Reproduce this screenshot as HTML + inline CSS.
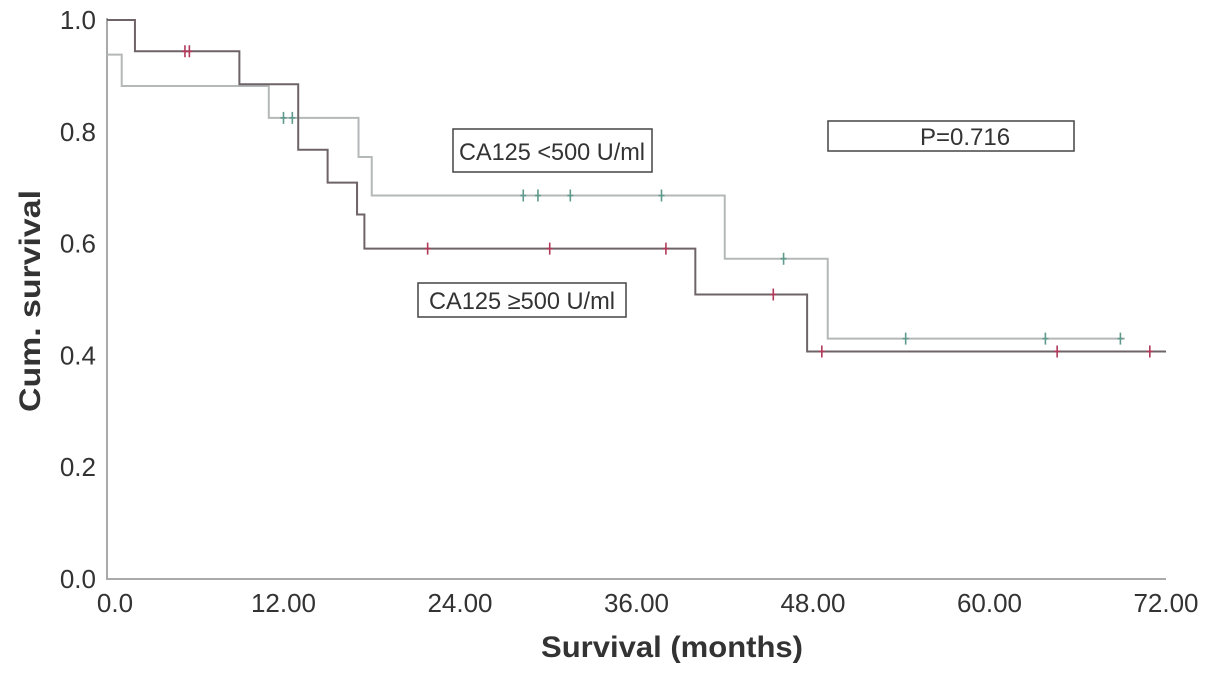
<!DOCTYPE html>
<html><head><meta charset="utf-8"><style>
html,body{margin:0;padding:0;background:#fff;}
svg{display:block;font-family:"Liberation Sans",sans-serif;}
</style></head><body>
<svg id="chart" width="1205" height="674" viewBox="0 0 1205 674">
<g id="axes"></g>
<g id="series"></g>
<g>
<rect x="453" y="129" width="199" height="43" fill="#fff" stroke="#444" stroke-width="1.5"/>
<text x="552" y="160" text-anchor="middle" font-size="24" fill="#333" textLength="186" lengthAdjust="spacingAndGlyphs">CA125 &lt;500 U/ml</text></g>
<g>
<rect x="418" y="283" width="208" height="34" fill="#fff" stroke="#444" stroke-width="1.5"/>
<text x="522" y="309" text-anchor="middle" font-size="24" fill="#333" textLength="186" lengthAdjust="spacingAndGlyphs">CA125 ≥500 U/ml</text></g>
<g>
<rect x="828" y="121" width="246" height="30" fill="#fff" stroke="#444" stroke-width="1.5"/>
<text x="965" y="145" text-anchor="middle" font-size="24" fill="#333">P=0.716</text></g>
<text x="672" y="657" text-anchor="middle" font-size="30" font-weight="bold" fill="#333" textLength="262" lengthAdjust="spacingAndGlyphs">Survival (months)</text>
<text transform="translate(40,301) rotate(-90)" text-anchor="middle" font-size="30" font-weight="bold" fill="#333" textLength="222" lengthAdjust="spacingAndGlyphs">Cum. survival</text>
</svg>
<script>
const xTicks=[0,12,24,36,48,60,72];
const xTickLabels=["0.0","12.00","24.00","36.00","48.00","60.00","72.00"];
const yTicks=[0,0.2,0.4,0.6,0.8,1.0];
const yTickLabels=["0.0","0.2","0.4","0.6","0.8","1.0"];
// CA125 <500 group
const lowTimes=[0,1.0,11.0,17.1,18.0,42.0,49.0];
const lowSurv=[0.938,0.882,0.825,0.755,0.686,0.573,0.430];
const lowEnd=69.2;
const lowCensor=[12.0,12.6,28.3,29.3,31.5,37.7,46.0,54.3,63.8,68.9];
// CA125 >=500 group
const highTimes=[0,1.9,9.0,13.0,15.0,17.0,17.5,40.0,47.6];
const highSurv=[1.0,0.944,0.885,0.768,0.709,0.652,0.591,0.509,0.407];
const highEnd=72;
const highCensor=[5.3,5.6,21.8,30.1,38.0,45.3,48.6,64.6,70.9];

const NS="http://www.w3.org/2000/svg";
const X=t=>107+t*(1166-107)/72;
const Y=v=>579-v*(579-20);
function mk(tag,attrs,parent){const e=document.createElementNS(NS,tag);for(const k in attrs)e.setAttribute(k,attrs[k]);parent.appendChild(e);return e;}
const axes=document.getElementById('axes');
const series=document.getElementById('series');
let a=mk('path',{d:`M${X(0)},${Y(1.0)-2}V${Y(0)}H${X(72)}`,fill:'none',stroke:'#aaa','stroke-width':2},axes);


xTicks.forEach((t,i)=>{const e=mk('text',{x:X(t)+(i==0?8:0),y:612,'text-anchor':'middle','font-size':26,fill:'#333'},axes);e.textContent=xTickLabels[i];

});
yTicks.forEach((v,i)=>{const e=mk('text',{x:96,y:Y(v)+9,'text-anchor':'end','font-size':26,fill:'#333'},axes);e.textContent=yTickLabels[i];

});
function stepAt(times,surv,t){let s=surv[0];for(let i=0;i<times.length;i++)if(times[i]<=t)s=surv[i];return s;}
function drawSeries(times,surv,end,cens,line,mark,name){
  let d=`M${X(times[0])},${Y(surv[0])}`;
  for(let i=1;i<times.length;i++){d+=`H${X(times[i])}V${Y(surv[i])}`;}
  d+=`H${X(end)}`;
  const p=mk('path',{d:d,fill:'none',stroke:line,'stroke-width':2},series);
  
  
  cens.forEach(t=>{const y=Y(stepAt(times,surv,t));const c=mk('path',{d:`M${X(t)},${y-6}V${y+6}M${X(t)-3},${y}H${X(t)+3}`,stroke:mark,'stroke-width':1.6},series);
  
  });
}
drawSeries(lowTimes,lowSurv,lowEnd,lowCensor,'#b4b8b8','#5f9a8c','ca125-low');
drawSeries(highTimes,highSurv,highEnd,highCensor,'#6e6468','#b03a5a','ca125-high');
</script>
</body></html>
